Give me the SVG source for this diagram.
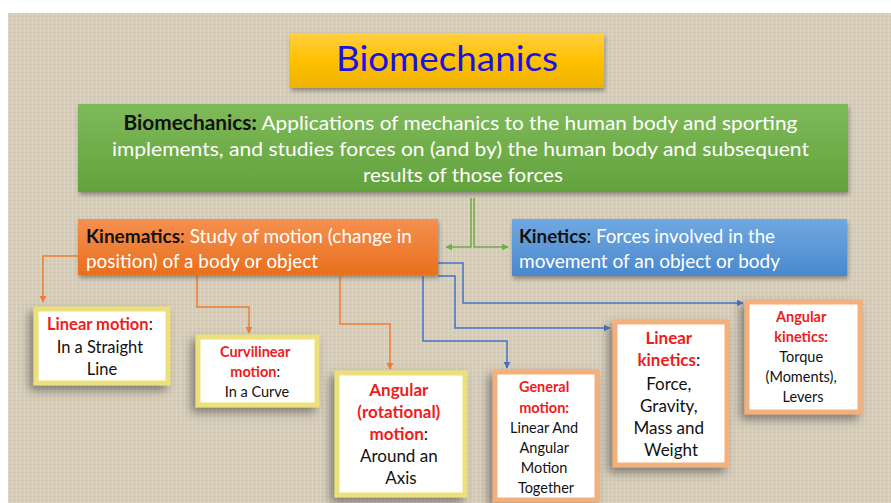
<svg xmlns="http://www.w3.org/2000/svg" width="891" height="503" viewBox="0 0 891 503">
<defs>
<style>
.f{font-family:Lato,"Open Sans","Liberation Sans",sans-serif}
.w{fill:#ffffff}
.k{fill:#111111}
.r{fill:#ee1c1c;font-weight:bold}
.b{font-weight:bold}
.ylw{fill:#ffffff;stroke:#ece07a;stroke-width:5}
.org{fill:#ffffff;stroke:#f2b07c;stroke-width:5}
.co{fill:none;stroke:#ed7d31;stroke-width:1.5}
.cb{fill:none;stroke:#4472c4;stroke-width:1.5}
.cg{fill:none;stroke:#70ad47;stroke-width:1.5}
</style>
<pattern id="tex" width="4" height="4" patternUnits="userSpaceOnUse">
<rect width="4" height="4" fill="#d6cdb9"/>
<rect width="4" height="1" fill="#cbc1ab" opacity="0.6"/>
<rect width="1" height="4" fill="#e2dac9" opacity="0.6"/>
</pattern>
<linearGradient id="gold" x1="0" y1="0" x2="0" y2="1"><stop offset="0" stop-color="#ffcf40"/><stop offset="0.5" stop-color="#ffc000"/><stop offset="1" stop-color="#eeb200"/></linearGradient>
<linearGradient id="grn" x1="0" y1="0" x2="0" y2="1"><stop offset="0" stop-color="#7fba5a"/><stop offset="1" stop-color="#62a23c"/></linearGradient>
<linearGradient id="orn" x1="0" y1="0" x2="0" y2="1"><stop offset="0" stop-color="#f59050"/><stop offset="1" stop-color="#e96f1c"/></linearGradient>
<linearGradient id="blu" x1="0" y1="0" x2="0" y2="1"><stop offset="0" stop-color="#70a8e0"/><stop offset="1" stop-color="#4a88cf"/></linearGradient>
<filter id="sh" x="-20%" y="-20%" width="140%" height="140%"><feDropShadow dx="1" dy="3" stdDeviation="2" flood-color="#444" flood-opacity="0.5"/></filter>
<filter id="sh2" x="-30%" y="-30%" width="160%" height="160%"><feDropShadow dx="-4" dy="5" stdDeviation="5" flood-color="#444" flood-opacity="0.6"/></filter>
<marker id="ao" viewBox="0 0 10 10" refX="9" refY="5" markerWidth="7" markerHeight="7" markerUnits="userSpaceOnUse" orient="auto"><path d="M0,0 L10,5 L0,10 z" fill="#ed7d31"/></marker>
<marker id="ab" viewBox="0 0 10 10" refX="9" refY="5" markerWidth="7" markerHeight="7" markerUnits="userSpaceOnUse" orient="auto"><path d="M0,0 L10,5 L0,10 z" fill="#4472c4"/></marker>
<marker id="ag" viewBox="0 0 10 10" refX="9" refY="5" markerWidth="7" markerHeight="7" markerUnits="userSpaceOnUse" orient="auto"><path d="M0,0 L10,5 L0,10 z" fill="#70ad47"/></marker>
</defs>
<rect width="891" height="503" fill="#ffffff"/>
<rect x="8" y="13" width="883" height="490" fill="url(#tex)"/>

<g id="connectors">
<path class="cg" d="M471,198 V247 H446" marker-end="url(#ag)"/>
<path class="cg" d="M474,198 V247 H508" marker-end="url(#ag)"/>
<path class="cb" d="M438,263 H463 V303 H743" marker-end="url(#ab)"/>
<path class="cb" d="M438,276 H455 V328 H610" marker-end="url(#ab)"/>
<path class="cb" d="M423,276 V341 H507 V368" marker-end="url(#ab)"/>
<path class="co" d="M78,256 H43 V302" marker-end="url(#ao)"/>
<path class="co" d="M197,276 V307 H249 V333" marker-end="url(#ao)"/>
<path class="co" d="M340,276 V324 H390 V369" marker-end="url(#ao)"/>
</g>

<g id="title">
<rect x="290" y="33" width="314" height="55" fill="url(#gold)" filter="url(#sh)"/>
<text class="f" x="447" y="71" font-size="35" text-anchor="middle" fill="#1a12e0" textLength="222" lengthAdjust="spacingAndGlyphs">Biomechanics</text>
</g>

<g id="definition">
<rect x="78" y="104" width="770" height="88" fill="url(#grn)" filter="url(#sh)"/>
<text class="f w" font-size="20" text-anchor="middle">
<tspan x="463" y="130" textLength="674" lengthAdjust="spacingAndGlyphs"><tspan class="k b">Biomechanics:</tspan> Applications of mechanics to the human body and sporting</tspan>
<tspan x="463" y="156" textLength="697" lengthAdjust="spacingAndGlyphs">implements, and studies forces on (and by) the human body and subsequent</tspan>
<tspan x="463" y="182" textLength="200" lengthAdjust="spacingAndGlyphs">results of those forces</tspan>
</text>
</g>

<g id="kinematics">
<rect x="78" y="219" width="360" height="56" fill="url(#orn)" filter="url(#sh)"/>
<text class="f w" font-size="18.5">
<tspan x="86" y="243" textLength="326" lengthAdjust="spacingAndGlyphs"><tspan class="k b">Kinematics</tspan><tspan class="k">:</tspan> Study of motion (change in</tspan>
<tspan x="86" y="268" textLength="232" lengthAdjust="spacingAndGlyphs">position) of a body or object</tspan>
</text>
</g>

<g id="kinetics">
<rect x="512" y="219" width="335" height="57" fill="url(#blu)" filter="url(#sh)"/>
<text class="f w" font-size="18.5">
<tspan x="519" y="243" textLength="256" lengthAdjust="spacingAndGlyphs"><tspan class="k b">Kinetics</tspan><tspan class="k">:</tspan> Forces involved in the</tspan>
<tspan x="519" y="268" textLength="261" lengthAdjust="spacingAndGlyphs">movement of an object or body</tspan>
</text>
</g>

<g id="linear-motion">
<rect class="ylw" x="36" y="309" width="132" height="74" filter="url(#sh2)"/>
<text class="f k" font-size="16.5" text-anchor="middle">
<tspan x="102" y="330"><tspan class="r">Linear motion</tspan>:</tspan>
<tspan x="102" y="353">In a Straight</tspan>
<tspan x="102" y="375">Line</tspan>
</text>
</g>

<g id="curvilinear-motion">
<rect class="ylw" x="198" y="337" width="119" height="68" filter="url(#sh2)"/>
<text class="f k" font-size="14.5" text-anchor="middle">
<tspan x="257" y="357" class="r">Curvilinear</tspan>
<tspan x="257" y="377"><tspan class="r">motion</tspan>:</tspan>
<tspan x="257" y="397">In a Curve</tspan>
</text>
</g>

<g id="angular-motion">
<rect class="ylw" x="337" y="373" width="128" height="122" filter="url(#sh2)"/>
<text class="f k" font-size="17" text-anchor="middle">
<tspan x="401" y="396" class="r">Angular</tspan>
<tspan x="401" y="418" class="r">(rotational)</tspan>
<tspan x="401" y="440"><tspan class="r">motion</tspan>:</tspan>
<tspan x="401" y="462">Around an</tspan>
<tspan x="401" y="484">Axis</tspan>
</text>
</g>

<g id="general-motion">
<rect class="org" x="495" y="372" width="102" height="128" filter="url(#sh2)"/>
<text class="f k" font-size="14.5" text-anchor="middle">
<tspan x="546" y="392" class="r">General</tspan>
<tspan x="546" y="413" class="r">motion:</tspan>
<tspan x="546" y="433">Linear And</tspan>
<tspan x="546" y="453">Angular</tspan>
<tspan x="546" y="473">Motion</tspan>
<tspan x="546" y="493">Together</tspan>
</text>
</g>

<g id="linear-kinetics">
<rect class="org" x="615" y="322" width="112" height="143" filter="url(#sh2)"/>
<text class="f k" font-size="17" text-anchor="middle">
<tspan x="671" y="344" class="r">Linear</tspan>
<tspan x="671" y="366"><tspan class="r">kinetics</tspan>:</tspan>
<tspan x="671" y="390">Force,</tspan>
<tspan x="671" y="412">Gravity,</tspan>
<tspan x="671" y="434">Mass and</tspan>
<tspan x="671" y="456">Weight</tspan>
</text>
</g>

<g id="angular-kinetics">
<rect class="org" x="747" y="302" width="113" height="110" filter="url(#sh2)"/>
<text class="f k" font-size="14.5" text-anchor="middle">
<tspan x="803" y="322" class="r">Angular</tspan>
<tspan x="803" y="342" class="r">kinetics:</tspan>
<tspan x="803" y="362">Torque</tspan>
<tspan x="803" y="382">(Moments),</tspan>
<tspan x="803" y="402">Levers</tspan>
</text>
</g>
</svg>
